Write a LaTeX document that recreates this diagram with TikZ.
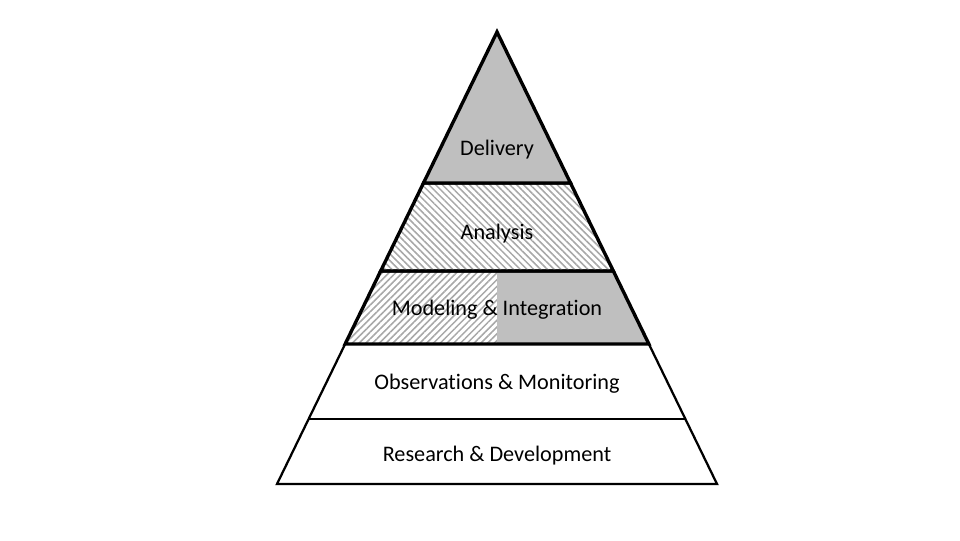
\documentclass[tikz,border=0pt]{standalone}
\usepackage{fontspec}
\setmainfont{Carlito}[Ligatures=NoCommon]
\usetikzlibrary{calc,patterns.meta}
\definecolor{layergray}{HTML}{BFBFBF}
\definecolor{hatchgray}{HTML}{A8A8A8}

\begin{document}
\begin{tikzpicture}[
    heavy/.style={line width=2.4pt, line join=miter},
    light/.style={line width=1.6pt, line join=miter},
    solidfill/.style={fill=layergray},
    hatchne/.style={pattern={Lines[angle=45,distance=3.4pt,line width=1.1pt]},
      pattern color=hatchgray},
    hatchnw/.style={pattern={Lines[angle=-45,distance=3.4pt,line width=1.1pt]},
      pattern color=hatchgray},
    layer/.style={font=\fontsize{15.8}{18}\selectfont, inner sep=0pt}]
      \useasboundingbox (0,0) rectangle (24,13.5);
      \coordinate (apex) at (12.425,12.7); \coordinate (bl) at (6.925,1.4);
      \coordinate (br) at (17.925,1.4);
      \coordinate (l1) at ($(apex)!0.3341!(bl)$); \coordinate (r1) at
      ($(apex)!0.3341!(br)$); \coordinate (l2) at ($(apex)!0.5288!(bl)$);
      \coordinate (r2) at ($(apex)!0.5288!(br)$); \coordinate (l3) at
      ($(apex)!0.6903!(bl)$); \coordinate (r3) at ($(apex)!0.6903!(br)$);
      \coordinate (l4) at ($(apex)!0.8562!(bl)$); \coordinate (r4) at
      ($(apex)!0.8562!(br)$); \coordinate (m2) at ($(l2)!0.5!(r2)$);
      \coordinate (m3) at ($(l3)!0.5!(r3)$);

      \draw[light] (l3) -- (bl) -- (br) -- (r3); \draw[line width=0.9pt] (l4)
      -- (r4);

      \fill[hatchne] (l3) -- (l2) -- (m2) -- (m3) -- cycle; \fill[solidfill]
      (m3) -- (m2) -- (r2) -- (r3) -- cycle; \draw[heavy] (l3) -- (l2) -- (r2)
      -- (r3) -- cycle;

      \draw[heavy, hatchnw] (l2) -- (l1) -- (r1) -- (r2) -- cycle;
      \draw[heavy, solidfill] (apex) -- (r1) -- (l1) -- cycle;

      \node[layer] (delivery) at (12.425,9.75) {Delivery}; \node[layer]
      (analysis) at (12.425,7.65) {Analysis}; \node[layer] (modeling) at
      (12.425,5.75) {Modeling \& Integration}; \node[layer] (observations) at
      (12.425,3.9) {Observations \& Monitoring}; \node[layer] (research) at
      (12.425,2.1) {Research \& Development};
    \end{tikzpicture}
\end{document}
